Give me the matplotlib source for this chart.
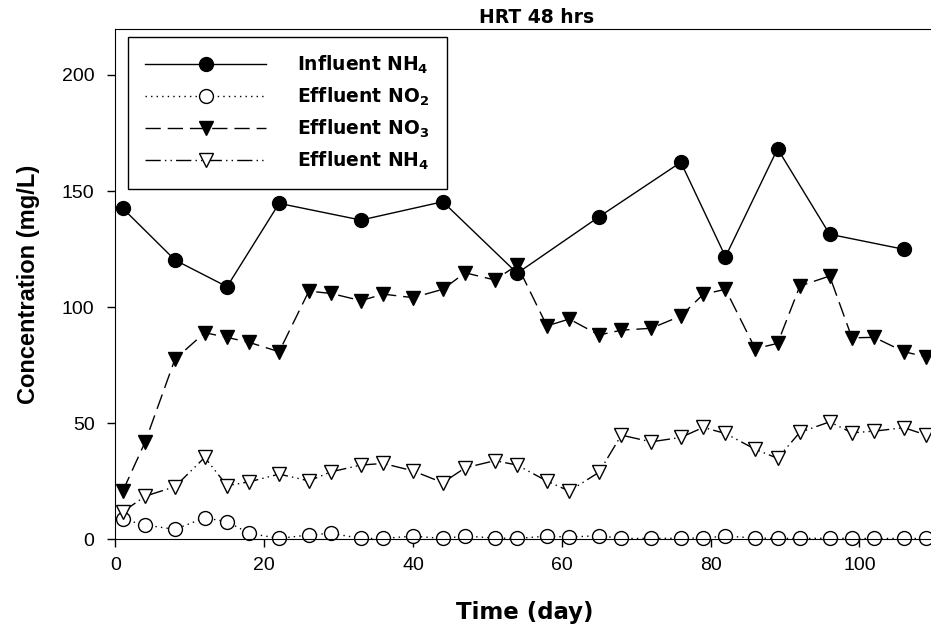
"""
HRT 48 hrs: influent and effluent nitrogen concentrations over time
"""

import numpy as np
import matplotlib.pyplot as plt

plt.rcParams['font.family'] = ['Liberation Sans', 'DejaVu Sans']
plt.rcParams['mathtext.fontset'] = 'custom'
plt.rcParams['mathtext.rm'] = 'DejaVu Sans:bold'
plt.rcParams['mathtext.it'] = 'DejaVu Sans:bold'
plt.rcParams['mathtext.bf'] = 'DejaVu Sans:bold'

# Influent NH4 (sampled less often)
inf_day = [1, 8, 15, 22, 33, 44, 54, 65, 76, 82, 89, 96, 106]
inf_nh4 = [142.5, 120.3, 108.8, 144.7, 137.5, 145.4, 114.6, 138.9, 162.4,
           121.7, 168.2, 131.4, 124.9]

# Effluent series
eff_day = [1, 4, 8, 12, 15, 18, 22, 26, 29, 33, 36, 40, 44, 47, 51, 54,
           58, 61, 65, 68, 72, 76, 79, 82, 86, 89, 92, 96, 99, 102, 106, 109]
eff_no2 = [8.6, 6.2, 4.3, 9.3, 7.6, 2.6, 0.4, 1.9, 2.6, 0.4, 0.4, 1.4, 0.4,
           1.4, 0.6, 0.4, 1.4, 1.0, 1.6, 0.4, 0.4, 0.5, 0.6, 1.4, 0.6, 0.4,
           0.4, 0.5, 0.4, 0.4, 0.4, 0.4]
eff_no3 = [20.9, 42.0, 77.6, 89.0, 87.0, 84.8, 80.8, 106.9, 105.9, 102.8,
           105.6, 104.1, 107.7, 114.8, 111.7, 118.1, 91.9, 94.9, 88.0, 90.1,
           90.9, 96.2, 105.5, 107.7, 82.1, 84.4, 109.1, 113.4, 86.8, 87.0,
           80.8, 78.6]
eff_nh4 = [11.9, 18.6, 22.7, 35.3, 23.1, 24.8, 28.1, 25.2, 29.1, 32.0, 32.7,
           29.5, 24.4, 30.8, 33.9, 32.0, 25.1, 20.8, 28.9, 44.9, 42.0, 43.9,
           48.2, 45.6, 38.8, 34.9, 46.1, 50.6, 45.9, 46.6, 48.1, 44.9]

fig = plt.figure(figsize=(9.31, 6.25), dpi=100)
ax = fig.add_axes([0.124, 0.137, 0.879, 0.8174])

ms = 10
ax.plot(inf_day, inf_nh4, '-', color='black', lw=1.0, marker='o', ms=ms,
        mfc='black', mec='black', clip_on=False, label=r'Influent NH$_4$')
ax.plot(eff_day, eff_no2, color='black', lw=1.0, dashes=(1, 3), marker='o',
        ms=ms, mfc='white', mec='black', mew=1.0, clip_on=False,
        label=r'Effluent NO$_2$')
ax.plot(eff_day, eff_no3, color='black', lw=1.0, dashes=(11, 5), marker='v',
        ms=ms, mfc='black', mec='black', clip_on=False,
        label=r'Effluent NO$_3$')
ax.plot(eff_day, eff_nh4, color='black', lw=1.0,
        dashes=(11, 3, 1, 3, 1, 3), marker='v', ms=ms, mfc='white',
        mec='black', mew=1.0, clip_on=False, label=r'Effluent NH$_4$')

ax.set_xlim(0, 110)
ax.set_ylim(0, 220)
ax.set_xticks([0, 20, 40, 60, 80, 100])
ax.set_yticks([0, 50, 100, 150, 200])
ax.tick_params(direction='out', length=6, width=1, labelsize=14)
ax.tick_params(axis='y', pad=9)
ax.tick_params(axis='x', pad=7)

ax.set_xlabel('Time (day)', fontsize=16.5, fontweight='bold',
              family='DejaVu Sans', labelpad=19)
ax.set_ylabel('Concentration (mg/L)', fontsize=17, fontweight='bold',
              labelpad=16)
ax.set_title('HRT 48 hrs', fontsize=13.5, fontweight='bold',
             family='DejaVu Sans', x=0.5146, pad=4)

leg = ax.legend(loc='upper left', bbox_to_anchor=(0.015, 0.984),
                borderaxespad=0, fancybox=False, edgecolor='black',
                framealpha=1, handlelength=6.5, handletextpad=1.65,
                labelspacing=0.52, borderpad=0.9,
                prop={'family': 'DejaVu Sans', 'weight': 'bold', 'size': 13.5})
leg.get_frame().set_linewidth(1.0)

plt.savefig('out.png', dpi=100)
